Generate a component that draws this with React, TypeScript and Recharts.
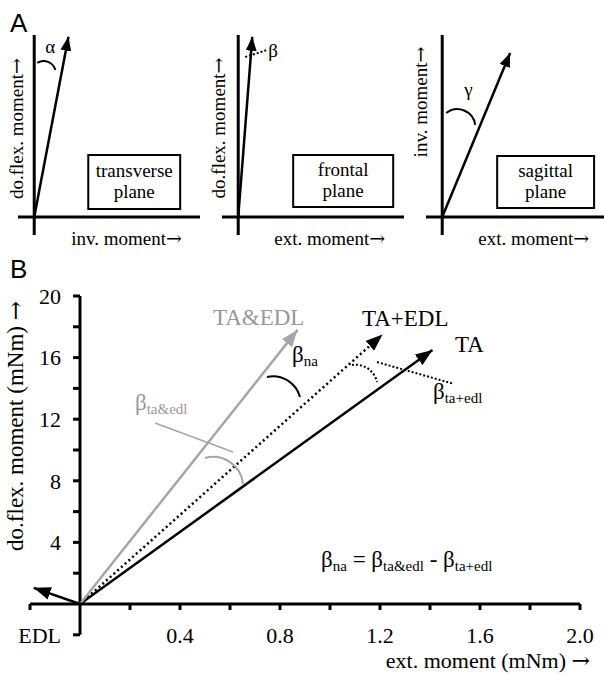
import React from 'react'
import { LineChart, Line, XAxis, YAxis, ReferenceLine, ReferenceDot, ReferenceArea } from 'recharts'

// Panel B: muscle moment vectors (mNm)
const vectorNames = ['TA', 'EDL', 'TA+EDL', 'TA&EDL']
const extMoment = [1.41, -0.185, 1.21, 0.87]
const dorsiMoment = [16.5, 1.05, 17.5, 17.8]

const xTicks = [-0.2, 0.2, 0.4, 0.6, 0.8, 1.0, 1.2, 1.4, 1.6, 1.8, 2.0]
const xTickLabels = [0.4, 0.8, 1.2, 1.6, 2.0]
const yTicks = [-2, 2, 4, 6, 8, 10, 12, 14, 16, 18, 20]
const yTickLabels = ['EDL', '', '4', '', '8', '', '12', '', '16', '', '20']

// Panel A: schematic planes (normalised units)
const planeNames = ['transverse', 'frontal', 'sagittal']
const planeX = [0.19, 0.078, 0.377]
const planeY = [1.0, 1.0, 0.91]
const planeXLabels = ['inv. moment→', 'ext. moment→', 'ext. moment→']
const planeYLabels = ['do.flex. moment→', 'do.flex. moment→', 'inv. moment→']
const planeAngles = ['α', 'β', 'γ']

const serif = '"Liberation Serif", "Times New Roman", serif'
const gray = '#a6a6a6'

// the arrow glyph is drawn from DejaVu, it is too small in Liberation
const withArrow = (c: React.ReactNode) =>
  typeof c === 'string' && c.endsWith('→')
    ? [c.slice(0, -1), <tspan key="arr" fontFamily="DejaVu Serif">→</tspan>]
    : c

// text placed at a data point
const textAt = (content: React.ReactNode, o: { anchor?: string; size?: number; fill?: string; rotate?: boolean } = {}) =>
  (p: any) => (
    <text
      x={p.cx}
      y={p.cy}
      textAnchor={o.anchor ?? 'start'}
      fontSize={o.size ?? 23}
      fontFamily={serif}
      fill={o.fill ?? '#000'}
      transform={o.rotate ? `rotate(-90 ${p.cx} ${p.cy})` : undefined}
    >
      {withArrow(content)}
    </text>
  )

const beta = (sub: string) => [
  <tspan key="b">β</tspan>,
  <tspan key="s" fontSize={15} dy={4}>{sub}</tspan>,
]

// arc between the two ends of a segment
const arcShape = (r: number) => (p: any) => (
  <path
    d={`M${p.x1},${p.y1} A${r},${r} 0 0 1 ${p.x2},${p.y2}`}
    fill="none"
    stroke={p.stroke}
    strokeWidth={p.strokeWidth}
    strokeDasharray={p.strokeDasharray}
  />
)

const head = (id: string, fill: string, len: number, w: number) => (
  <marker id={id} viewBox={`0 0 ${len} ${w}`} refX={len} refY={w / 2} markerWidth={len} markerHeight={w}
    markerUnits="userSpaceOnUse" orient="auto">
    <path d={`M0,0 L${len},${w / 2} L0,${w} Z`} fill={fill} stroke="none" />
  </marker>
)

const planeLayout = [
  { left: 0, width: 200, ml: 18, xMax: 0.92, arc: [[0.017, 0.855], [0.117, 0.816]], r: 12, greek: [0.061, 0.91],
    box: [0.3, 0.81, 0.044, 0.344], xLab: [0.205, -0.155], yLab: [-0.061, 0.491] },
  { left: 200, width: 204, ml: 22, xMax: 0.92, arc: [[0.039, 0.888], [0.161, 0.927]], r: 0, greek: [0.166, 0.888],
    box: [0.305, 0.86, 0.056, 0.344], xLab: [0.2, -0.155], yLab: [-0.072, 0.494] },
  { left: 404, width: 200, ml: 22, xMax: 0.898, arc: [[0.022, 0.577], [0.183, 0.511]], r: 18, greek: [0.122, 0.671],
    box: [0.305, 0.843, 0.05, 0.339], xLab: [0.2, -0.155], yLab: [-0.083, 0.638] },
]

function PlaneChart({ i }: { i: number }) {
  const L = planeLayout[i]
  const [bx1, bx2, by1, by2] = L.box
  return (
    <div style={{ position: 'absolute', left: L.left, top: 0 }}>
      <LineChart width={L.width} height={250} margin={{ top: 35, right: 0, bottom: 15, left: L.ml }}>
        <defs>{head(`aHead${i}`, '#000', 14, 11)}</defs>
        <XAxis type="number" dataKey="x" domain={[-0.09, L.xMax]} hide />
        <YAxis type="number" domain={[-0.1, 1.01]} hide />
        <ReferenceLine x={0} stroke="#000" strokeWidth={3} />
        <ReferenceLine y={0} stroke="#000" strokeWidth={3} />
        <ReferenceArea x1={bx1} x2={bx2} y1={by1} y2={by2} fill="none" stroke="#000" strokeWidth={2} />
        <Line
          data={[{ x: 0, y: 0 }, { x: planeX[i], y: planeY[i] }]}
          dataKey="y"
          stroke="#000"
          strokeWidth={2.5}
          dot={false}
          activeDot={false}
          isAnimationActive={false}
          markerEnd={`url(#aHead${i})`}
        />
        {L.r > 0 ? (
          <ReferenceLine
            segment={[{ x: L.arc[0][0], y: L.arc[0][1] }, { x: L.arc[1][0], y: L.arc[1][1] }]}
            stroke="#000" strokeWidth={2} shape={arcShape(L.r)}
          />
        ) : (
          <ReferenceLine
            segment={[{ x: L.arc[0][0], y: L.arc[0][1] }, { x: L.arc[1][0], y: L.arc[1][1] }]}
            stroke="#000" strokeWidth={2} strokeDasharray="2 2"
          />
        )}
        <ReferenceDot x={L.greek[0]} y={L.greek[1]} r={0} shape={textAt(planeAngles[i], { size: 19 })} />
        <ReferenceDot
          x={(bx1 + bx2) / 2}
          y={(by1 + by2) / 2}
          r={0}
          shape={(p: any) => (
            <text textAnchor="middle" fontSize={19} fontFamily={serif} fill="#000">
              <tspan x={p.cx} y={p.cy - 5}>{planeNames[i]}</tspan>
              <tspan x={p.cx} y={p.cy + 16}>plane</tspan>
            </text>
          )}
        />
        <ReferenceDot x={L.xLab[0]} y={L.xLab[1]} r={0} ifOverflow="visible" shape={textAt(planeXLabels[i], { size: 19 })} />
        <ReferenceDot x={L.yLab[0]} y={L.yLab[1]} r={0} ifOverflow="visible"
          shape={textAt(planeYLabels[i], { size: 19, anchor: 'middle', rotate: true })} />
      </LineChart>
    </div>
  )
}

const vectorStyle: Record<string, { stroke: string; dash?: string; head: string }> = {
  TA: { stroke: '#000', head: 'bHeadBlack' },
  EDL: { stroke: '#000', head: 'bHeadBlack' },
  'TA+EDL': { stroke: '#000', dash: '2 3', head: 'bHeadBlack' },
  'TA&EDL': { stroke: gray, head: 'bHeadGray' },
}

function VectorChart() {
  return (
    <div style={{ position: 'absolute', left: 0, top: 250 }}>
      <LineChart width={604} height={425} margin={{ top: 46, right: 24, bottom: 31, left: 30 }}>
        <defs>
          {head('bHeadBlack', '#000', 17, 13)}
          {head('bHeadGray', gray, 17, 13)}
        </defs>
        <XAxis
          type="number"
          dataKey="x"
          domain={[-0.2, 2]}
          ticks={xTicks}
          interval={0}
          tickFormatter={(v: number) => (xTickLabels.includes(v) ? v.toFixed(1) : '')}
          height={40}
          tickSize={6}
          tickMargin={17}
          axisLine={{ stroke: '#000', strokeWidth: 3 }}
          tickLine={{ stroke: '#000', strokeWidth: 3 }}
          tick={{ fontSize: 22, fontFamily: serif, fill: '#000' }}
        />
        <YAxis type="number" domain={[0, 20]} hide />
        <ReferenceLine segment={[{ x: 0, y: -2 }, { x: 0, y: 20 }]} ifOverflow="visible" stroke="#000" strokeWidth={3} />
        {yTicks.map((t, i) => (
          <ReferenceDot
            key={t}
            x={0}
            y={t}
            r={0}
            ifOverflow="visible"
            shape={(p: any) => (
              <g>
                <line x1={p.cx - 7} y1={p.cy} x2={p.cx} y2={p.cy} stroke="#000" strokeWidth={3} />
                {yTickLabels[i] && (
                  <text x={p.cx - 19} y={p.cy} dy="0.35em" textAnchor="end" fontSize={22} fontFamily={serif} fill="#000">
                    {yTickLabels[i]}
                  </text>
                )}
              </g>
            )}
          />
        ))}
        {vectorNames.map((name, i) => (
          <Line
            key={name}
            data={[{ x: 0, y: 0 }, { x: extMoment[i], y: dorsiMoment[i] }]}
            dataKey="y"
            name={name}
            stroke={vectorStyle[name].stroke}
            strokeDasharray={vectorStyle[name].dash}
            strokeWidth={2.5}
            dot={false}
            activeDot={false}
            isAnimationActive={false}
            markerEnd={`url(#${vectorStyle[name].head})`}
          />
        ))}
        {/* angle marks */}
        <ReferenceLine segment={[{ x: 0.5, y: 9.48 }, { x: 0.652, y: 7.79 }]} stroke={gray} strokeWidth={2} shape={arcShape(30)} />
        <ReferenceLine segment={[{ x: 0.748, y: 14.74 }, { x: 0.88, y: 13.44 }]} stroke="#000" strokeWidth={2} shape={arcShape(28)} />
        <ReferenceLine segment={[{ x: 1.088, y: 15.52 }, { x: 1.188, y: 14.42 }]} stroke="#000" strokeWidth={2}
          strokeDasharray="2 2" shape={arcShape(22)} />
        <ReferenceLine segment={[{ x: 0.3, y: 11.75 }, { x: 0.612, y: 9.87 }]} stroke={gray} strokeWidth={1.5} />
        <ReferenceLine segment={[{ x: 1.188, y: 15.71 }, { x: 1.496, y: 14.29 }]} stroke="#000" strokeWidth={2} strokeDasharray="2 2" />
        {/* labels */}
        <ReferenceDot x={0.532} y={18.12} r={0} shape={textAt('TA&EDL', { fill: '#999' })} />
        <ReferenceDot x={1.128} y={18.05} r={0} shape={textAt('TA+EDL')} />
        <ReferenceDot x={1.5} y={16.36} r={0} shape={textAt('TA')} />
        <ReferenceDot x={0.848} y={15.71} r={0} shape={textAt(beta('na'))} />
        <ReferenceDot x={0.22} y={12.6} r={0} shape={textAt(beta('ta&edl'), { fill: '#999' })} />
        <ReferenceDot x={1.412} y={13.31} r={0} shape={textAt(beta('ta+edl'))} />
        <ReferenceDot
          x={0.964}
          y={2.4}
          r={0}
          shape={textAt([
            ...beta('na'),
            <tspan key="e1" dy={-4}>{' = β'}</tspan>,
            <tspan key="e2" fontSize={15} dy={4}>{'ta&edl'}</tspan>,
            <tspan key="e3" dy={-4}>{' - β'}</tspan>,
            <tspan key="e4" fontSize={15} dy={4}>{'ta+edl'}</tspan>,
          ])}
        />
        <ReferenceDot x={2.04} y={-4.15} r={0} ifOverflow="visible"
          shape={textAt('ext. moment (mNm) →', { anchor: 'end', size: 22 })} />
        <ReferenceDot x={-0.228} y={11.56} r={0} ifOverflow="visible"
          shape={textAt('do.flex. moment (mNm) →', { anchor: 'middle', rotate: true })} />
      </LineChart>
    </div>
  )
}

export default function App() {
  return (
    <div style={{ position: 'absolute', left: 0, top: 0, width: 604, height: 675, background: '#fff', overflow: 'hidden' }}>
      <svg width={604} height={675} style={{ position: 'absolute', left: 0, top: 0 }}>
        <text x={10} y={32} fontSize={26} fontFamily='"Liberation Sans", Arial, sans-serif' fill="#000">A</text>
        <text x={10} y={278} fontSize={26} fontFamily='"Liberation Sans", Arial, sans-serif' fill="#000">B</text>
      </svg>
      {[0, 1, 2].map(i => <PlaneChart key={i} i={i} />)}
      <VectorChart />
    </div>
  )
}
